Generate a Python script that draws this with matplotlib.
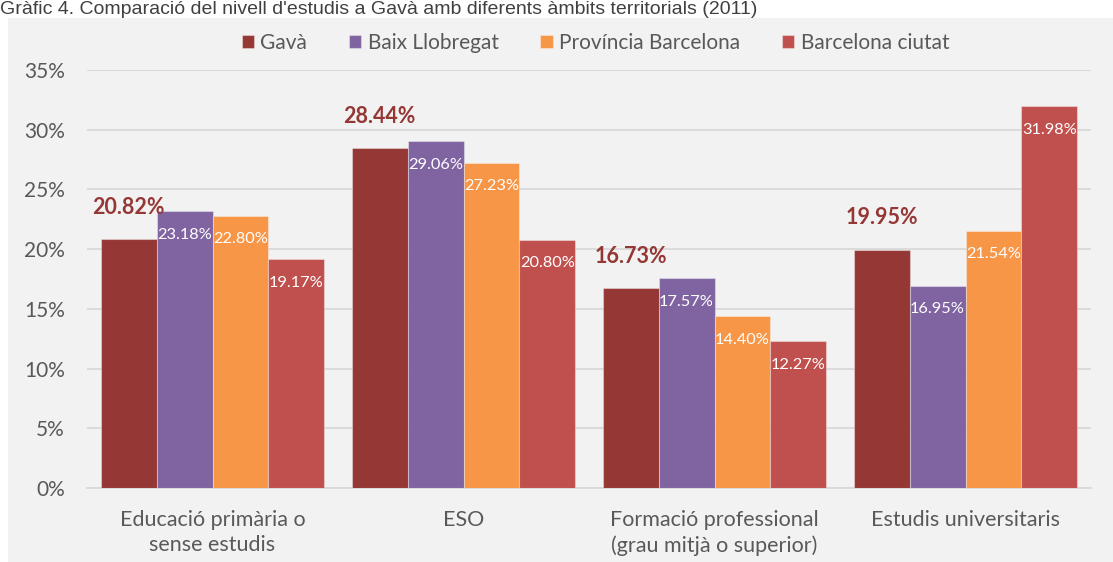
import matplotlib
matplotlib.use("Agg")
import matplotlib.pyplot as plt
from matplotlib.patches import Rectangle
import numpy as np

categories = ["Educació primària o\nsense estudis", "ESO",
              "Formació professional\n(grau mitjà o superior)", "Estudis universitaris"]
series_names = ["Gavà", "Baix Llobregat", "Província Barcelona", "Barcelona ciutat"]
gava = [20.82, 28.44, 16.73, 19.95]
baix = [23.18, 29.06, 17.57, 16.95]
prov = [22.80, 27.23, 14.40, 21.54]
bcn = [19.17, 20.80, 12.27, 31.98]
yticks = [0, 5, 10, 15, 20, 25, 30, 35]
title = "Gràfic 4. Comparació del nivell d'estudis a Gavà amb diferents àmbits territorials (2011)"

colors = ["#953735", "#8064A2", "#F79646", "#C0504D"]
font = ["Lato", "DejaVu Sans"]
gray = "#595959"

W, H = 1113, 562
fig = plt.figure(figsize=(W / 100, H / 100), dpi=100)
fig.patch.set_facecolor("white")
bg = Rectangle((8 / W, 0), 1 - 8 / W, 1 - 18 / H, transform=fig.transFigure,
               facecolor="#F2F2F2", edgecolor="none", zorder=-5)
fig.add_artist(bg)
fig.text(0, 1 - 1 / H, title, ha="left", va="top", fontsize=14,
         family=["Liberation Sans", "DejaVu Sans"], color="#404040", zorder=5)

ax = fig.add_axes([87 / W, 1 - 488 / H, (1091 - 87) / W, (488 - 70) / H])
ax.set_facecolor("none")
x = np.arange(len(categories))
bw = 0.223
data = [gava, baix, prov, bcn]
for i, (vals, c, name) in enumerate(zip(data, colors, series_names)):
    pos = x + (i - 1.5) * bw
    ax.bar(pos, vals, bw, color=c, label=name, edgecolor=(1, 1, 1, 0.35),
           linewidth=0.8, zorder=3)
    for p, v in zip(pos, vals):
        if i == 0:
            ax.annotate(f"{v:.2f}%", (p, v), xytext=(0, 23), textcoords="offset points",
                        ha="center", va="center", fontsize=15.5, fontweight="bold",
                        color=colors[0], family=font, zorder=4)
        else:
            ax.annotate(f"{v:.2f}%", (p, v), xytext=(0, -17), textcoords="offset points",
                        ha="center", va="center", fontsize=11.8, color="white",
                        family=font, zorder=4)

ax.set_xlim(-0.5, 3.5)
ax.set_ylim(0, 35)
ax.set_yticks(yticks)
ax.set_yticklabels([f"{t}%" for t in yticks], family=font, fontsize=15, color=gray)
ax.set_xticks(x)
ax.set_xticklabels(categories, family=font, fontsize=15.5, color=gray, linespacing=1.3)
ax.tick_params(axis="y", length=0, pad=16)
ax.tick_params(axis="x", length=0, pad=16)
ax.grid(axis="y", color="#D9D9D9", linewidth=1.3, zorder=0)
ax.set_axisbelow(True)
for s in ["top", "right", "left"]:
    ax.spines[s].set_visible(False)
ax.spines["bottom"].set_color("#D9D9D9")
ax.spines["bottom"].set_linewidth(1.3)

leg = fig.legend(loc="center", bbox_to_anchor=(0.535, 1 - 43 / H), ncol=4, frameon=False,
                 prop={"family": font, "size": 15}, handlelength=0.6, handleheight=0.6,
                 handletextpad=0.3, columnspacing=2.0)
for t in leg.get_texts():
    t.set_color(gray)

fig.savefig("out.png", dpi=100, facecolor=fig.get_facecolor())
